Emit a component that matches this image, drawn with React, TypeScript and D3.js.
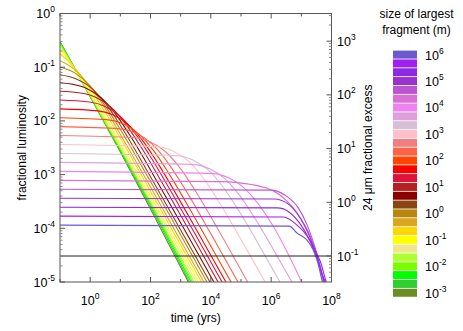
import React from 'react';
import * as d3 from 'd3';

// colours of the size bins, largest fragment first (10^6 m ... 10^-3 m)
const sizeColors = [
  '#6a5acd', '#a020f0', '#8a2be2', '#9932cc', '#ba55d3', '#da70d6', '#ee82ee',
  '#dda0dd', '#d8bfd8', '#ffc0cb', '#f08080', '#ff6347', '#ff4500', '#ff0000',
  '#dc143c', '#b22222', '#8b0000', '#8b4513', '#b8860b', '#daa520', '#ffd700',
  '#ffff00', '#f0e68c', '#adff2f', '#7cfc00', '#00ff00', '#32cd32', '#6b8e23',
];
const legendExponents = [6, 5, 4, 3, 2, 1, 0, -1, -2, -3];

const timeTicks = [0, 2, 4, 6, 8];
const lumTicks = [0, -1, -2, -3, -4, -5];
const excessTicks = [3, 2, 1, 0, -1];
const excessPerLum = 3280; // 24 micron excess / fractional luminosity
const detectionExcess = 0.1;

// [log10 t (yrs), log10 f], same order as sizeColors
const lumCurves: [number, number][][] = [
  [[-1, -3.94], [6.6, -3.96], [6.86, -4.09], [7.19, -4.22], [7.39, -4.4], [7.55, -4.65], [7.68, -4.96], [7.72, -5.05]],
  [[-1, -3.773], [6.4, -3.79], [6.86, -3.94], [7.19, -4.14], [7.45, -4.4], [7.65, -4.65], [7.8, -4.95], [7.86, -5.05]],
  [[-1, -3.607], [6.2, -3.62], [6.6, -3.7], [7.0, -3.95], [7.3, -4.25], [7.55, -4.6], [7.74, -4.93], [7.84, -5.05]],
  [[-1, -3.44], [6.1, -3.455], [6.55, -3.54], [6.95, -3.8], [7.25, -4.12], [7.5, -4.5], [7.7, -4.88], [7.8, -5.05]],
  [[-1, -3.273], [6.0, -3.29], [6.45, -3.38], [6.9, -3.62], [7.2, -3.95], [7.45, -4.35], [7.66, -4.78], [7.77, -5.05]],
  [[-1, -3.107], [4.3, -3.13], [5.4, -3.19], [6.29, -3.38], [6.95, -3.79], [7.3, -4.15], [7.52, -4.5], [7.7, -4.95], [7.74, -5.05]],
  [[-1, -2.94], [4.09, -2.981], [4.59, -3.059], [5.09, -3.241], [5.59, -3.559], [6.09, -3.981], [6.6, -4.52], [7.05, -5.05]],
  [[-1, -2.773], [3.46, -2.814], [3.96, -2.892], [4.46, -3.074], [4.96, -3.392], [5.46, -3.814], [6.46, -4.777], [6.74, -5.05]],
  [[-1, -2.607], [2.9, -2.648], [3.4, -2.726], [3.9, -2.908], [4.4, -3.226], [4.9, -3.648], [5.9, -4.611], [6.34, -5.05]],
  [[-1, -2.44], [2.24, -2.481], [2.74, -2.559], [3.24, -2.741], [3.74, -3.059], [4.24, -3.481], [5.24, -4.444], [5.85, -5.05]],
  [[-1, -2.273], [1.5, -2.314], [2.0, -2.392], [2.5, -2.574], [3.0, -2.892], [3.5, -3.314], [4.5, -4.277], [5.27, -5.05]],
  [[-1, -2.107], [1.01, -2.148], [1.51, -2.226], [2.01, -2.408], [2.51, -2.726], [3.01, -3.148], [4.01, -4.111], [4.95, -5.05]],
  [[-1, -1.94], [0.61, -1.981], [1.11, -2.059], [1.61, -2.241], [2.11, -2.559], [2.61, -2.981], [3.61, -3.944], [4.72, -5.05]],
  [[-1, -1.776], [0.27, -1.814], [0.77, -1.892], [1.27, -2.074], [1.77, -2.392], [2.27, -2.814], [3.27, -3.777], [4.55, -5.05]],
  [[-1, -1.61], [-0.02, -1.648], [0.48, -1.726], [0.98, -1.908], [1.48, -2.226], [1.98, -2.648], [2.98, -3.611], [4.42, -5.05]],
  [[-1, -1.449], [-0.32, -1.481], [0.18, -1.559], [0.68, -1.741], [1.18, -2.059], [1.68, -2.481], [2.68, -3.444], [4.29, -5.05]],
  [[-1, -1.29], [-0.63, -1.314], [-0.13, -1.392], [0.37, -1.574], [0.87, -1.892], [1.37, -2.314], [2.37, -3.277], [4.15, -5.05]],
  [[-1, -1.14], [-0.5, -1.21], [0, -1.37], [0.5, -1.67], [1, -2.08], [2, -3.04], [3, -4.03], [4.02, -5.05]],
  [[-1, -0.997], [-0.5, -1.11], [0, -1.35], [0.5, -1.72], [1, -2.16], [2, -3.13], [3.92, -5.05]],
  [[-1, -0.88], [-0.5, -1.05], [0, -1.36], [0.5, -1.77], [1, -2.25], [2, -3.23], [3.82, -5.05]],
  [[-1, -0.75], [-0.5, -1.02], [0, -1.4], [0.5, -1.84], [1, -2.32], [2, -3.31], [3.74, -5.05]],
  [[-1, -0.67], [0, -1.46], [1, -2.42], [2, -3.4], [3.65, -5.05]],
  [[-1, -0.62], [0, -1.5], [1, -2.47], [2, -3.45], [3.57, -5.05]],
  [[-1, -0.58], [0, -1.52], [1, -2.5], [2, -3.5], [3.5, -5.05]],
  [[-1, -0.56], [0, -1.53], [1, -2.52], [2, -3.53], [3.44, -5.05]],
  [[-1, -0.54], [0, -1.53], [1, -2.54], [2, -3.56], [3.39, -5.05]],
  [[-1, -0.53], [0, -1.54], [1, -2.56], [2, -3.6], [3.34, -5.05]],
  [[-1, -0.52], [0, -1.55], [1, -2.58], [2, -3.64], [3.3, -5.05]],
];

const font = '"Liberation Sans", Arial, Helvetica, sans-serif';
const axisColor = '#555';

const Pow = ({ x, y, e, anchor = 'start', size = 12.5 }: any) => (
  <text x={x} y={y} textAnchor={anchor} fontSize={size} fontFamily={font} fill="#000">
    <tspan>10</tspan>
    <tspan dy={-6} fontSize={size * 0.68}>{e}</tspan>
  </text>
);

export default function App() {
  const W = 463, H = 331;
  const left = 60, right = 331.5, top = 13.5, bottom = 282;
  const x = d3.scaleLog().domain([0.1, 1e8]).range([left, right]);
  const y = d3.scaleLog().domain([1e-5, 1]).range([bottom, top]);
  const yR = d3.scaleLog().domain([1e-5 * excessPerLum, excessPerLum]).range([bottom, top]);

  const line = d3.line<[number, number]>()
    .x((d) => x(Math.pow(10, d[0])))
    .y((d) => y(Math.pow(10, d[1])))
    .curve(d3.curveMonotoneX);

  const minorL: number[] = [];
  for (let e = -5; e < 0; e++) for (let m = 2; m < 10; m++) minorL.push(m * Math.pow(10, e));
  const minorR: number[] = [];
  for (let e = -2; e < 4; e++) for (let m = 2; m < 10; m++) {
    const v = m * Math.pow(10, e);
    if (v >= yR.domain()[0] && v <= yR.domain()[1]) minorR.push(v);
  }
  const decades = d3.range(-1, 9);

  // legend
  const boxX = 393, boxW = 24, boxTop = 50.6, boxH = 8.82;

  return (
    <svg width={W} height={H} style={{ position: 'fixed', left: 0, top: 0, background: '#fff' }}>
      <defs>
        <clipPath id="plot">
          <rect x={left} y={top} width={right - left} height={bottom - top} />
        </clipPath>
      </defs>
      <rect width={W} height={H} fill="#fff" />

      <g clipPath="url(#plot)" fill="none" strokeWidth={1.1}>
        {lumCurves.map((c, i) => ({ c, i })).reverse().map(({ c, i }) => (
          <path key={i} d={line(c) || ''} stroke={sizeColors[i]} />
        ))}
        <line x1={left} x2={right} y1={yR(detectionExcess)} y2={yR(detectionExcess)} stroke="#222" strokeWidth={1} />
      </g>

      {/* frame */}
      <rect x={left} y={top} width={right - left} height={bottom - top} fill="none" stroke={axisColor} strokeWidth={1} />

      {/* x ticks top and bottom */}
      {decades.map((e) => {
        const len = e % 2 === 0 ? 5 : 3;
        const xx = x(Math.pow(10, e));
        return (
          <g key={e} stroke={axisColor}>
            <line x1={xx} x2={xx} y1={bottom} y2={bottom - len} />
            <line x1={xx} x2={xx} y1={top} y2={top + len} />
          </g>
        );
      })}
      {timeTicks.map((e) => (
        <Pow key={e} x={x(Math.pow(10, e))} y={bottom + 22.5} e={e} anchor="middle" />
      ))}

      {/* left axis */}
      {lumTicks.map((e) => (
        <g key={e}>
          <line x1={left} x2={left + 5} y1={y(Math.pow(10, e))} y2={y(Math.pow(10, e))} stroke={axisColor} />
          <Pow x={55} y={y(Math.pow(10, e)) + 4.5} e={e} anchor="end" />
        </g>
      ))}
      {minorL.map((v, i) => (
        <line key={i} x1={left} x2={left + 2.5} y1={y(v)} y2={y(v)} stroke="#888" />
      ))}

      {/* right axis */}
      {excessTicks.map((e) => (
        <g key={e}>
          <line x1={right} x2={right - 5} y1={yR(Math.pow(10, e))} y2={yR(Math.pow(10, e))} stroke={axisColor} />
          <Pow x={337} y={yR(Math.pow(10, e)) + 4.5} e={e} />
        </g>
      ))}
      {minorR.map((v, i) => (
        <line key={i} x1={right} x2={right - 2.5} y1={yR(v)} y2={yR(v)} stroke="#888" />
      ))}

      {/* axis titles */}
      <text x={(left + right) / 2} y={322} textAnchor="middle" fontSize={12} fontFamily={font}>time (yrs)</text>
      <text transform={`translate(26,${(top + bottom) / 2}) rotate(-90)`} textAnchor="middle" fontSize={12} fontFamily={font}>
        fractional luminosity
      </text>
      <text transform={`translate(372,${(top + bottom) / 2}) rotate(-90)`} textAnchor="middle" fontSize={12} fontFamily={font}>
        24 μm fractional excess
      </text>

      {/* legend */}
      <text x={416.5} y={18} textAnchor="middle" fontSize={12} fontFamily={font}>size of largest</text>
      <text x={416.5} y={34} textAnchor="middle" fontSize={12} fontFamily={font}>fragment (m)</text>
      {sizeColors.map((c, i) => (
        <rect key={c} x={boxX} y={boxTop + i * boxH} width={boxW} height={boxH - 0.8} fill={c} />
      ))}
      {legendExponents.map((e, j) => (
        <Pow key={e} x={425} y={boxTop + j * 3 * boxH + boxH / 2 + 4.5} e={e} />
      ))}
    </svg>
  );
}
